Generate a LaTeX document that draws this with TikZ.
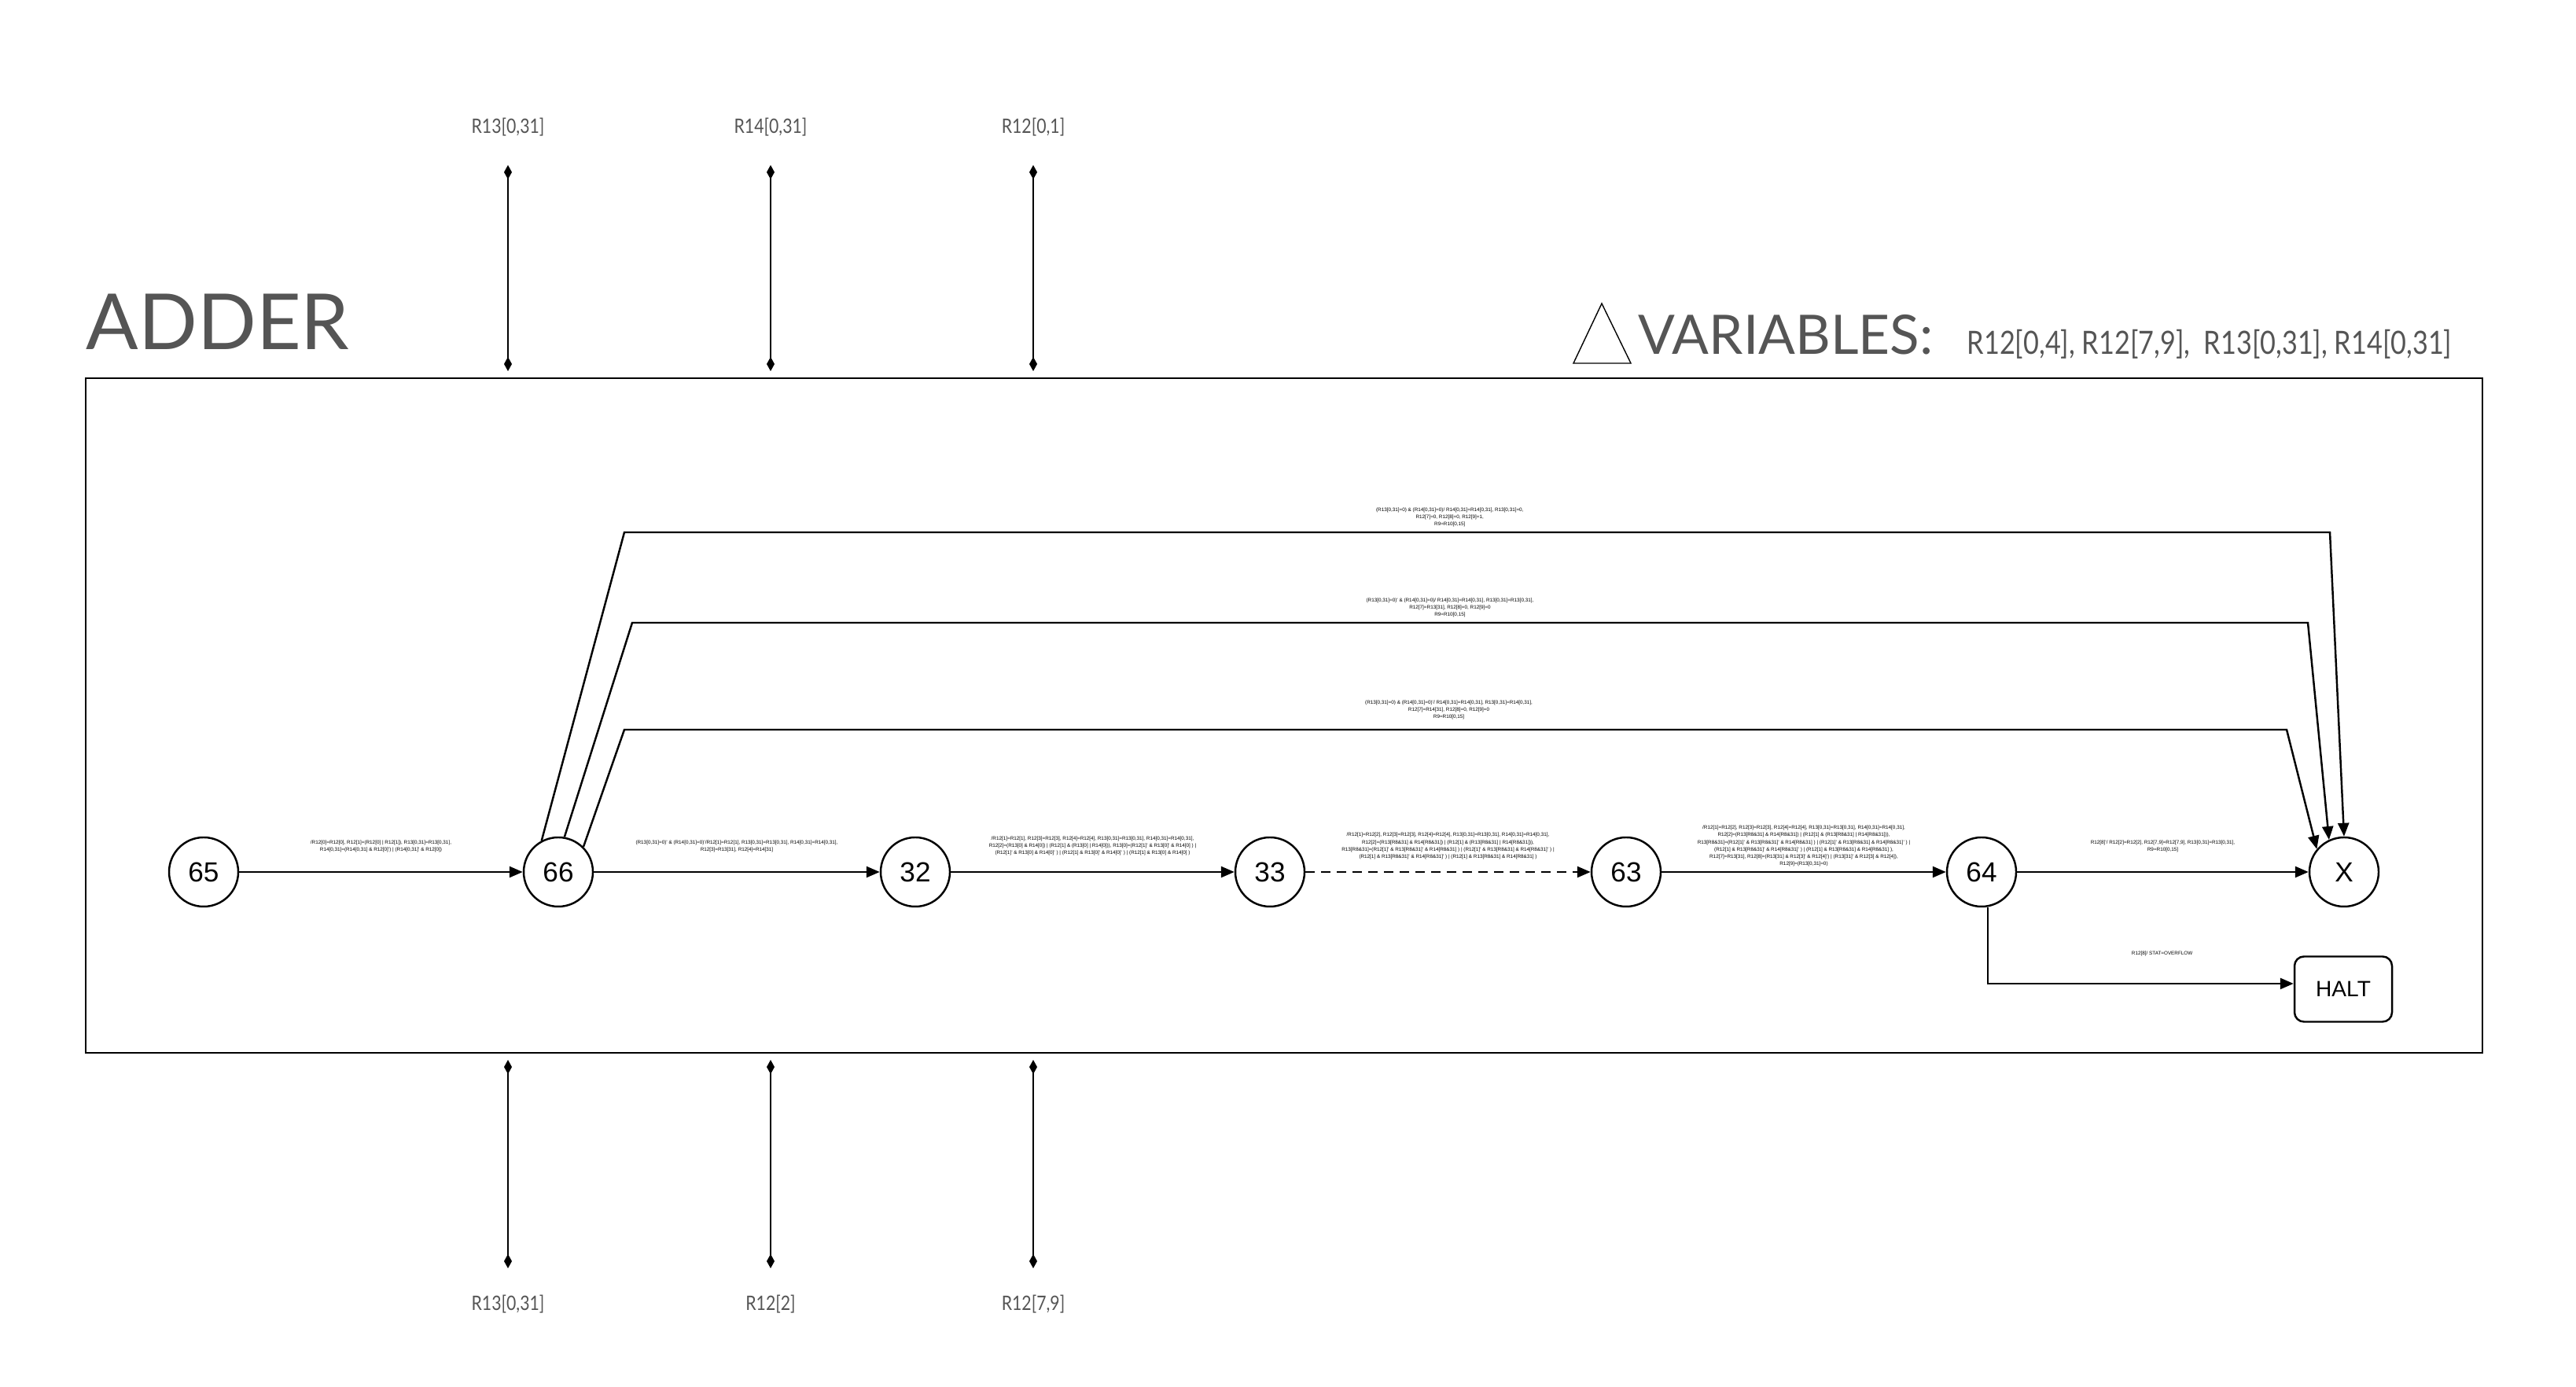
\documentclass[tikz,border=0pt]{standalone}
\usepackage{fontspec}
\setmainfont{Liberation Sans}
\newfontfamily\titlefont{Lato}
\newfontfamily\condfont[FakeStretch=0.84]{Lato}
\usetikzlibrary{arrows.meta}
\definecolor{titlegray}{RGB}{85,85,85}

\begin{document}
\begin{tikzpicture}[
  state/.style={draw, circle, line width=0.7pt, minimum size=0.88cm, inner sep=0pt, font=\fontsize{10}{12}\selectfont},
  haltbox/.style={draw, rounded corners=0.12cm, line width=0.7pt, minimum width=1.24cm, minimum height=0.83cm, font=\fontsize{8}{10}\selectfont},
  trans/.style={line width=0.7pt, -{Triangle[length=0.17cm,width=0.14cm]}},
  rule/.style={align=center, inner sep=0pt, font=\fontsize{1.8}{2.6}\selectfont},
  signal/.style={line width=0.6pt, {Kite[length=0.18cm,width=0.1cm,inset=0.09cm]}-{Kite[length=0.18cm,width=0.1cm,inset=0.09cm]}},
  signame/.style={inner sep=0pt, text=titlegray, font=\condfont\fontsize{7.2}{8}\selectfont}
]
\useasboundingbox (0,0) rectangle (32.76,17.64);

% frame and titles
\draw [line width=0.6pt] (1.09,4.25) rectangle (31.57,12.83);
\node [anchor=base west, inner sep=0pt, text=titlegray, font=\titlefont\fontsize{28}{30}\selectfont] (title) at (1.09,13.19) {ADDER};
\draw [line width=0.4pt, fill=white] (20.01,13.02) -- (20.74,13.02) -- (20.37,13.78) -- cycle;
\node [anchor=base west, inner sep=0pt, text=titlegray, font=\titlefont\fontsize{19.7}{22}\selectfont] (vars) at (20.83,13.13) {VARIABLES:};
\node [anchor=base west, inner sep=0pt, text=titlegray, font=\condfont\fontsize{11.6}{14}\selectfont] (varlist) at (25.01,13.13) {R12[0,4], R12[7,9],~ R13[0,31], R14[0,31]};

% inputs
\coordinate (inAtop) at (6.46,15.54);  \coordinate (inAbot) at (6.46,12.92);
\coordinate (inBtop) at (9.80,15.54);  \coordinate (inBbot) at (9.80,12.92);
\coordinate (inCtop) at (13.14,15.54); \coordinate (inCbot) at (13.14,12.92);
\node [signame] (inA) at (6.46,16.02) {R13[0,31]};
\node [signame] (inB) at (9.80,16.02) {R14[0,31]};
\node [signame] (inC) at (13.14,16.02) {R12[0,1]};
\draw [signal] (inAbot) -- (inAtop);
\draw [signal] (inBbot) -- (inBtop);
\draw [signal] (inCbot) -- (inCtop);

% outputs
\coordinate (outAtop) at (6.46,4.16);  \coordinate (outAbot) at (6.46,1.51);
\coordinate (outBtop) at (9.80,4.16);  \coordinate (outBbot) at (9.80,1.51);
\coordinate (outCtop) at (13.14,4.16); \coordinate (outCbot) at (13.14,1.51);
\node [signame] (outA) at (6.46,1.05) {R13[0,31]};
\node [signame] (outB) at (9.80,1.05) {R12[2]};
\node [signame] (outC) at (13.14,1.05) {R12[7,9]};
\draw [signal] (outAtop) -- (outAbot);
\draw [signal] (outBtop) -- (outBbot);
\draw [signal] (outCtop) -- (outCbot);

% states
\node [state] (n65) at (2.59,6.55) {65};
\node [state] (n66) at (7.10,6.55) {66};
\node [state] (n32) at (11.64,6.55) {32};
\node [state] (n33) at (16.15,6.55) {33};
\node [state] (n63) at (20.68,6.55) {63};
\node [state] (n64) at (25.20,6.55) {64};
\node [state] (nX) at (29.81,6.55) {X};
\node [haltbox] (halt) at (29.80,5.06) {HALT};

% main row
\draw [trans] (n65) -- node [rule, yshift=0.33cm] {/R12[0]=R12[0], R12[1]=(R12[0] | R12[1]), R13[0,31]=R13[0,31],\\ R14[0,31]=(R14[0,31] \& R12[0]') | (R14[0,31]' \& R12[0])} (n66);
\draw [trans] (n66) -- node [rule, yshift=0.33cm] {(R13[0,31]=0)' \& (R14[0,31]=0)'/R12[1]=R12[1], R13[0,31]=R13[0,31], R14[0,31]=R14[0,31],\\ R12[3]=R13[31], R12[4]=R14[31]} (n32);
\draw [trans] (n32) -- node [rule, yshift=0.33cm] {/R12[1]=R12[1], R12[3]=R12[3], R12[4]=R12[4], R13[0,31]=R13[0,31], R14[0,31]=R14[0,31],\\ R12[2]=(R13[0] \& R14[0]) | (R12[1] \& (R13[0] | R14[0])), R13[0]=(R12[1]' \& R13[0]' \& R14[0] ) |\\ (R12[1]' \& R13[0] \& R14[0]' ) | (R12[1] \& R13[0]' \& R14[0]' ) | (R12[1] \& R13[0] \& R14[0] )} (n33);
\draw [trans, dash pattern=on 0.12cm off 0.08cm] (n33) -- node [rule, yshift=0.33cm] {/R12[1]=R12[2], R12[3]=R12[3], R12[4]=R12[4], R13[0,31]=R13[0,31], R14[0,31]=R14[0,31],\\ R12[2]=(R13[R8\&31] \& R14[R8\&31]) | (R12[1] \& (R13[R8\&31] | R14[R8\&31])),\\ R13[R8\&31]=(R12[1]' \& R13[R8\&31]' \& R14[R8\&31] ) | (R12[1]' \& R13[R8\&31] \& R14[R8\&31]' ) |\\ (R12[1] \& R13[R8\&31]' \& R14[R8\&31]' ) | (R12[1] \& R13[R8\&31] \& R14[R8\&31] )} (n63);
\draw [trans] (n63) -- node [rule, yshift=0.33cm] {/R12[1]=R12[2], R12[3]=R12[3], R12[4]=R12[4], R13[0,31]=R13[0,31], R14[0,31]=R14[0,31],\\ R12[2]=(R13[R8\&31] \& R14[R8\&31]) | (R12[1] \& (R13[R8\&31] | R14[R8\&31])),\\ R13[R8\&31]=(R12[1]' \& R13[R8\&31]' \& R14[R8\&31] ) | (R12[1]' \& R13[R8\&31] \& R14[R8\&31]' ) |\\ (R12[1] \& R13[R8\&31]' \& R14[R8\&31]' ) | (R12[1] \& R13[R8\&31] \& R14[R8\&31] ),\\ R12[7]=R13[31], R12[8]=(R13[31] \& R12[3]' \& R12[4]') | (R13[31]' \& R12[3] \& R12[4]),\\ R12[9]=(R13[0,31]=0)} (n64);
\draw [trans] (n64) -- node [rule, yshift=0.33cm] {R12[8]'/ R12[2]=R12[2], R12[7,9]=R12[7,9], R13[0,31]=R13[0,31],\\ R9=R10[0,15]} (nX);
\draw [trans] ([xshift=0.08cm]n64.south) |- node [rule, pos=0.785, yshift=0.38cm] {R12[8]/ STAT=OVERFLOW} ([yshift=0.07cm]halt.west);

% bypass edges
\draw [trans] (n66.118) -- (7.94,10.87) -- node [rule, pos=0.484, yshift=0.19cm] {(R13[0,31]=0) \& (R14[0,31]=0)/ R14[0,31]=R14[0,31], R13[0,31]=0,\\ R12[7]=0, R12[8]=0, R12[9]=1,\\ R9=R10[0,15]} (29.63,10.87) -- (nX.90);
\draw [trans] (n66.80) -- (8.04,9.72) -- node [rule, pos=0.488, yshift=0.19cm] {(R13[0,31]=0)' \& (R14[0,31]=0)/ R14[0,31]=R14[0,31], R13[0,31]=R13[0,31],\\ R12[7]=R13[31], R12[8]=0, R12[9]=0\\ R9=R10[0,15]} (29.35,9.72) -- (nX.115);
\draw [trans] (n66.45) -- (7.94,8.36) -- node [rule, pos=0.496, yshift=0.25cm] {(R13[0,31]=0) \& (R14[0,31]=0)'/ R14[0,31]=R14[0,31], R13[0,31]=R14[0,31],\\ R12[7]=R14[31], R12[8]=0, R12[9]=0\\ R9=R10[0,15]} (29.08,8.36) -- (nX.140);
\end{tikzpicture}
\end{document}
